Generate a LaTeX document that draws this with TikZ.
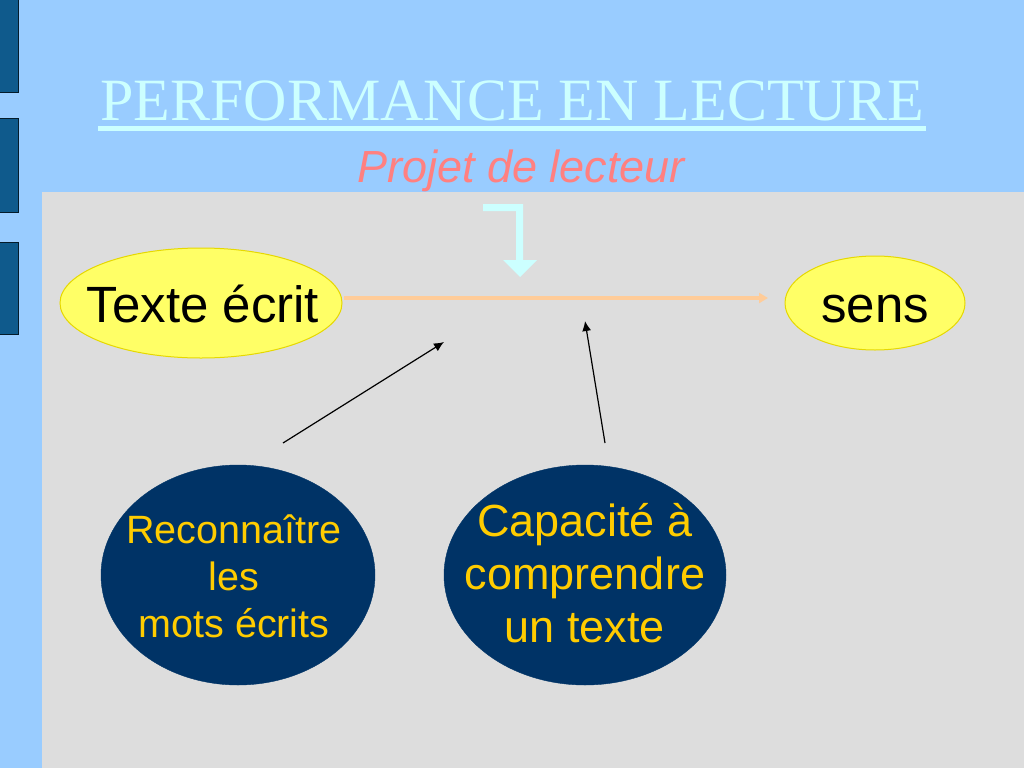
\documentclass[tikz,border=0pt]{standalone}
\usepackage{fontspec}
\setmainfont{Liberation Serif}
\setsansfont{Liberation Sans}
\usetikzlibrary{arrows.meta,shapes.geometric}
\definecolor{bgblue}{HTML}{99CCFF}
\definecolor{barblue}{HTML}{0F5A8C}
\definecolor{panel}{HTML}{DDDDDD}
\definecolor{lcyan}{HTML}{CCFFFF}
\definecolor{salmon}{HTML}{FF8080}
\definecolor{yfill}{HTML}{FFFF66}
\definecolor{yedge}{HTML}{E6D800}
\definecolor{navy}{HTML}{003366}
\definecolor{gold}{HTML}{FFCC00}
\definecolor{peach}{HTML}{FFCC99}
\tikzset{
  bar/.style={fill=barblue,draw=black!70!barblue,line width=1},
  yell/.style={ellipse,fill=yfill,draw=yedge,line width=1,inner sep=0},
  ytext/.style={inner sep=0,font=\sffamily\fontsize{51}{55}\selectfont},
  dark/.style={ellipse,fill=navy,draw=navy,inner sep=0},
  dtext/.style={inner sep=0,text=gold,align=center},
  blk/.style={-{Latex[length=10,width=9]},line width=1.2,black},
}
\begin{document}
\begin{tikzpicture}[x=1pt,y=-1pt]
\useasboundingbox (0,0) rectangle (1024,768);
\fill[bgblue] (0,0) rectangle (1024,768);
\draw[bar] (-2,-2) rectangle (18,92);
\draw[bar] (-2,118) rectangle (18,212);
\draw[bar] (-2,242) rectangle (18,334);
\fill[panel] (42,192) rectangle (1024,768);
\node[text=lcyan,font=\fontsize{60}{64}\selectfont,inner sep=0,anchor=base] (title) at (512,120) {PERFORMANCE EN LECTURE};
\fill[lcyan] (98,126) rectangle (926,131);
\node[text=salmon,font=\sffamily\itshape\fontsize{45}{50}\selectfont,inner sep=0,anchor=base] (proj) at (521,182) {Projet de lecteur};
% cyan bent arrow
\fill[lcyan] (483,204) -- (523,204) -- (523,260) -- (537,260) -- (520,277) -- (503,260) -- (516,260) -- (516,211) -- (483,211) -- cycle;
\node[yell,minimum width=282,minimum height=110] (texte) at (201,303) {};
\node[ytext,anchor=base] (textel) at (203,322) {Texte écrit};
\node[yell,minimum width=180,minimum height=94] (sens) at (875,303) {};
\node[ytext,anchor=base] (sensl) at (875,322) {sens};
\coordinate (ostart) at (344,298);
\coordinate (oend) at (768,298);
\draw[peach,line width=4,-{Triangle[length=9,width=10]}] (ostart) -- (oend);
\node[dark,minimum width=274,minimum height=220] (reco) at (238,575) {};
\node[dtext,font=\sffamily\fontsize{39.5}{47}\selectfont,anchor=base] (recol) at (234,637) {Reconnaître\\les\\ mots écrits};
\node[dark,minimum width=282,minimum height=220] (capa) at (585,575) {};
\node[dtext,font=\sffamily\fontsize{45}{53}\selectfont,anchor=base] (capal) at (585,642) {Capacité à\\comprendre\\un texte};
\coordinate (a1s) at (283,443);
\coordinate (a1e) at (444,342);
\coordinate (a2s) at (605,443);
\coordinate (a2e) at (585,321);
\draw[blk] (a1s) -- (a1e);
\draw[blk] (a2s) -- (a2e);
\end{tikzpicture}
\end{document}
